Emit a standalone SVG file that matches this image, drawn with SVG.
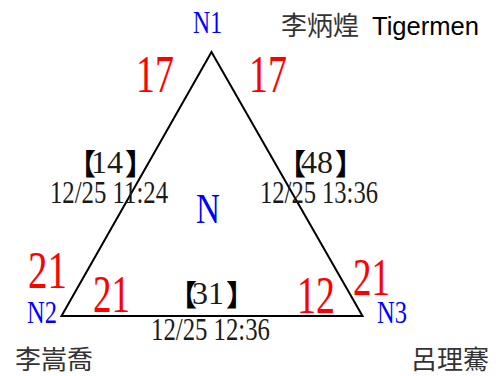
<svg xmlns="http://www.w3.org/2000/svg" width="499" height="376" viewBox="0 0 499 376">
<style>
.s{font-family:"Liberation Serif","Times New Roman",serif;}
.red{fill:#ff0000;font-size:52px;}
.blue{fill:#0000ff;}
.blk{fill:#1a1a1a;}
.br{font-family:"Noto Sans CJK TC","Noto Sans CJK SC",sans-serif;font-size:29px;fill:#000;font-weight:bold;}
.cjk{font-family:"Noto Sans CJK TC","Noto Sans CJK SC",sans-serif;fill:#333;font-size:26px;}
</style>
<rect width="499" height="376" fill="#fff"/>
<g id="connectors">
<polygon points="211.5,52 61.5,316 362.5,316" fill="none" stroke="#000" stroke-width="2"/>
</g>
<g id="N1">
<text class="s blue" x="193" y="33" font-size="32" textLength="29" lengthAdjust="spacingAndGlyphs">N1</text>
<text class="s red" x="136" y="92" textLength="38" lengthAdjust="spacingAndGlyphs">17</text>
<text class="s red" x="249" y="92" textLength="38" lengthAdjust="spacingAndGlyphs">17</text>
<text x="281" y="35"><tspan class="cjk" font-size="27">李炳煌</tspan><tspan font-family="Liberation Sans, Arial, sans-serif" font-size="25" fill="#000" x="372" textLength="107" lengthAdjust="spacingAndGlyphs">Tigermen</tspan></text>
</g>
<g id="N2">
<text class="s blue" x="27" y="323" font-size="32" textLength="30" lengthAdjust="spacingAndGlyphs">N2</text>
<text class="s red" x="28" y="288" textLength="39" lengthAdjust="spacingAndGlyphs">21</text>
<text class="s red" x="93" y="312" textLength="37" lengthAdjust="spacingAndGlyphs">21</text>
<text class="cjk" x="15" y="369">李嵩喬</text>
</g>
<g id="N3">
<text class="s blue" x="377" y="323" font-size="32" textLength="30" lengthAdjust="spacingAndGlyphs">N3</text>
<text class="s red" x="353" y="295" textLength="37" lengthAdjust="spacingAndGlyphs">21</text>
<text class="s red" x="297" y="313" textLength="38" lengthAdjust="spacingAndGlyphs">12</text>
<text class="cjk" x="411" y="369">呂理騫</text>
</g>
<g id="N">
<text class="s blue" x="196" y="223" font-size="43" textLength="24" lengthAdjust="spacingAndGlyphs">N</text>
</g>
<g id="edge-labels">
<text class="br" x="67" y="175">【</text>
<text class="s blk" x="91" y="173" font-size="32" textLength="32" lengthAdjust="spacingAndGlyphs">14</text>
<text class="br" x="125" y="175">】</text>
<text class="s blk" x="50" y="203" font-size="32" textLength="118" lengthAdjust="spacingAndGlyphs">12/25 11:24</text>
<text class="br" x="277" y="175">【</text>
<text class="s blk" x="301" y="173" font-size="32" textLength="32" lengthAdjust="spacingAndGlyphs">48</text>
<text class="br" x="335" y="175">】</text>
<text class="s blk" x="260" y="203" font-size="32" textLength="118" lengthAdjust="spacingAndGlyphs">12/25 13:36</text>
<text class="br" x="168" y="306">【</text>
<text class="s blk" x="192" y="304" font-size="32" textLength="32" lengthAdjust="spacingAndGlyphs">31</text>
<text class="br" x="226" y="306">】</text>
<text class="s blk" x="151" y="340" font-size="32" textLength="119" lengthAdjust="spacingAndGlyphs">12/25 12:36</text>
</g>
</svg>
